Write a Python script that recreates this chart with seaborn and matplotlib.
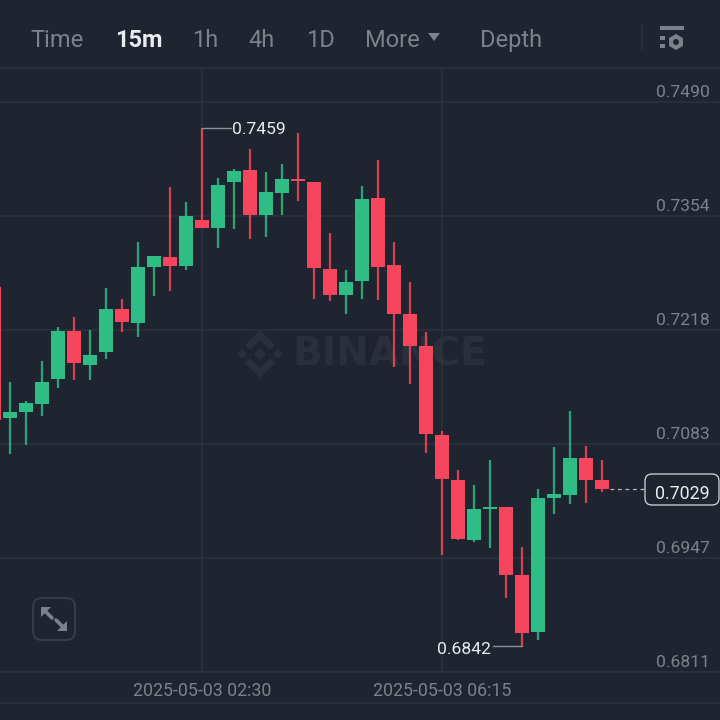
import matplotlib
matplotlib.use("Agg")
import matplotlib.pyplot as plt
from matplotlib.patches import FancyBboxPatch, Polygon, Rectangle, RegularPolygon, Circle
from matplotlib.transforms import ScaledTranslation
import pandas as pd
import seaborn as sns

BG = "#1F2530"
GRID = "#2D333E"
RED = "#F6465D"
GREEN = "#2EBD85"
GREY = "#7C818B"
WHITE = "#EAECEF"

# candles, 15 minute steps
opens = [0.7269, 0.7113, 0.7120, 0.7130, 0.7160, 0.7217, 0.7176, 0.7192, 0.7243, 0.7226,
         0.7293, 0.7305, 0.7294, 0.7349, 0.7339, 0.7394, 0.7408, 0.7355, 0.7381, 0.7398,
         0.7394, 0.7291, 0.7260, 0.7276, 0.7375, 0.7295, 0.7237, 0.7199, 0.7093, 0.7040,
         0.6968, 0.7005, 0.7007, 0.6926, 0.6859, 0.7018, 0.7022, 0.7066, 0.7040]
highs = [0.7269, 0.7156, 0.7134, 0.7181, 0.7222, 0.7234, 0.7218, 0.7268, 0.7255, 0.7323,
         0.7306, 0.7388, 0.7370, 0.7459, 0.7399, 0.7410, 0.7433, 0.7406, 0.7416, 0.7453,
         0.7394, 0.7334, 0.7289, 0.7389, 0.7420, 0.7323, 0.7275, 0.7216, 0.7098, 0.7051,
         0.7034, 0.7063, 0.7007, 0.6960, 0.7029, 0.7079, 0.7122, 0.7080, 0.7063]
lows = [0.7111, 0.7070, 0.7081, 0.7116, 0.7149, 0.7159, 0.7159, 0.7184, 0.7216, 0.7210,
        0.7259, 0.7265, 0.7289, 0.7339, 0.7316, 0.7338, 0.7326, 0.7329, 0.7355, 0.7372,
        0.7255, 0.7253, 0.7237, 0.7255, 0.7254, 0.7174, 0.7154, 0.7072, 0.6950, 0.6968,
        0.6966, 0.6959, 0.6899, 0.6842, 0.6849, 0.6999, 0.7011, 0.7012, 0.7025]
closes = [0.7111, 0.7120, 0.7131, 0.7156, 0.7217, 0.7179, 0.7188, 0.7243, 0.7228, 0.7293,
          0.7306, 0.7294, 0.7354, 0.7339, 0.7391, 0.7407, 0.7355, 0.7382, 0.7398, 0.7395,
          0.7292, 0.7260, 0.7275, 0.7374, 0.7293, 0.7237, 0.7199, 0.7094, 0.7041, 0.6969,
          0.7005, 0.7007, 0.6926, 0.6857, 0.7018, 0.7023, 0.7066, 0.7040, 0.7029]

price_ticks = [0.7490, 0.7354, 0.7218, 0.7083, 0.6947, 0.6811]
time_labels = ["2025-05-03 02:30", "2025-05-03 06:15"]
time_ticks = [13, 28]
high_idx, high_price = 13, 0.7459
low_idx, low_price = 33, 0.6842
last_price = 0.7029
menu = [("Time", 30), ("15m", 115), ("1h", 192), ("4h", 248), ("1D", 306), ("More", 365), ("Depth", 480)]

df = pd.DataFrame({"open": opens, "high": highs, "low": lows, "close": closes})
df["idx"] = df.index
df["up"] = df["close"] >= df["open"]
df["body"] = (df["close"] - df["open"]).abs()
df["base"] = df[["open", "close"]].min(axis=1)

sns.set_theme(style="dark", rc={"figure.facecolor": BG, "axes.facecolor": BG, "savefig.facecolor": BG})
plt.rcParams["font.family"] = ["Roboto", "DejaVu Sans"]

fig = plt.figure(figsize=(7.2, 7.2), dpi=100)

# page furniture, drawn in pixels under the chart
ui = fig.add_axes([0, 0, 1, 1], zorder=0)
ui.set_xlim(0, 720)
ui.set_ylim(720, 0)
ui.set_axis_off()

for label, x in menu:
    on = label == "15m"
    ui.text(x, 47, label, ha="left", va="baseline", fontsize=17, color=WHITE if on else GREY,
            fontweight="bold" if on else "normal")
ui.add_patch(Polygon([(428, 33), (440, 33), (434, 41)], color=GREY, lw=0))
ui.plot([642, 642], [26, 49], color=GRID, lw=1.2)
ui.add_patch(Rectangle((660, 26), 24, 3.5, color=GREY, lw=0))
ui.add_patch(Rectangle((660, 36), 5, 4, color=GREY, lw=0))
ui.add_patch(Rectangle((660, 44), 5, 4, color=GREY, lw=0))
ui.add_patch(RegularPolygon((676, 42), 6, radius=8, color=GREY, lw=0))
ui.add_patch(Circle((676, 42), 3, color=BG, lw=0))
ui.plot([0, 720], [703, 703], color=GRID, lw=1.1)

# watermark
mark = "#2A303B"
ui.text(292, 354, "BINANCE", ha="left", va="center", fontsize=28, fontweight="bold",
        color=mark, family="DejaVu Sans")
ui.add_patch(Polygon([(260, 348), (266, 354), (260, 360), (254, 354)], color=mark, lw=0))
ui.add_patch(Polygon([(242, 349), (247, 354), (242, 359), (237, 354)], color=mark, lw=0))
ui.add_patch(Polygon([(278, 349), (283, 354), (278, 359), (273, 354)], color=mark, lw=0))
ui.add_patch(Polygon([(260, 330), (275, 345), (270, 350), (260, 340), (250, 350), (245, 345)], color=mark, lw=0))
ui.add_patch(Polygon([(260, 378), (275, 363), (270, 358), (260, 368), (250, 358), (245, 363)], color=mark, lw=0))

# expand button
ui.add_patch(FancyBboxPatch((38, 603), 32, 32, boxstyle="round,pad=5,rounding_size=9",
                            fc="none", ec="#363C47", lw=1.5))
ui.add_patch(Polygon([(41, 607), (51, 607), (41, 617)], color=GREY, lw=0))
ui.add_patch(Polygon([(67, 631), (57, 631), (67, 621)], color=GREY, lw=0))
ui.plot([44, 52], [610, 618], color=GREY, lw=2.6)
ui.plot([64, 56], [628, 620], color=GREY, lw=2.6)

# price tag on the right
ui.plot([610, 645], [489, 489], color="#B7BBC2", lw=0.9, dashes=(3, 3))
ui.add_patch(FancyBboxPatch((650, 479), 64, 21, boxstyle="round,pad=5,rounding_size=7",
                            fc=BG, ec="#D5D8DC", lw=0.9))
ui.text(682.5, 492, f"{last_price:.4f}", ha="center", va="center_baseline", fontsize=12.8, color=WHITE)

# the candle axes
ax = fig.add_axes([0, 48 / 720, 1, 604 / 720], zorder=1)
ax.patch.set_visible(False)

ax.vlines(df["idx"], df["low"], df["high"], colors=[GREEN if u else RED for u in df["up"]],
          lw=1.6, alpha=0.85, zorder=3)
sub_up = df[df["up"]]
sub_down = df[~df["up"]]
sns.barplot(data=sub_up, x="idx", y="body", bottom=sub_up["base"].values, native_scale=True,
            width=0.875, color=GREEN, saturation=1, errorbar=None, linewidth=0, ax=ax, zorder=4)
sns.barplot(data=sub_down, x="idx", y="body", bottom=sub_down["base"].values, native_scale=True,
            width=0.875, color=RED, saturation=1, errorbar=None, linewidth=0, ax=ax, zorder=4)

ax.set_xlim(0.375, 45.375)
ax.set_ylim(0.6811, 0.7530)
ax.set_xlabel("")
ax.set_ylabel("")

ax.set_axisbelow(True)
ax.grid(True, color=GRID, lw=1.1)
ax.set_xticks(time_ticks)
ax.set_xticklabels(time_labels)
ax.set_yticks(price_ticks)
ax.set_yticklabels([f"{p:.4f}" for p in price_ticks])
ax.tick_params(axis="x", length=0, pad=7, labelsize=12.8, labelcolor=GREY)
ax.tick_params(axis="y", length=0, pad=-7.5, labelsize=12.6, labelcolor=GREY,
               left=False, labelleft=False, right=False, labelright=True)
nudge = ScaledTranslation(0, 2 / 100, fig.dpi_scale_trans)
for lab in ax.get_yticklabels():
    lab.set_ha("right")
    lab.set_va("bottom")
    lab.set_transform(lab.get_transform() + nudge)
for side in ["left", "right"]:
    ax.spines[side].set_visible(False)
for side in ["top", "bottom"]:
    ax.spines[side].set_color(GRID)
    ax.spines[side].set_linewidth(1.1)

# high and low callouts
ax.plot([high_idx, high_idx + 1.8], [high_price, high_price], color="#8A8F98", lw=1, zorder=5)
ax.text(high_idx + 1.87, high_price, f"{high_price:.4f}", ha="left", va="center_baseline", fontsize=12.6, color=WHITE)
ax.plot([low_idx, low_idx - 1.8], [low_price, low_price], color="#8A8F98", lw=1, zorder=5)
ax.text(low_idx - 1.92, low_price - 0.0002, f"{low_price:.4f}", ha="right", va="center_baseline", fontsize=12.6, color=WHITE)

fig.savefig("out.png", dpi=100)
